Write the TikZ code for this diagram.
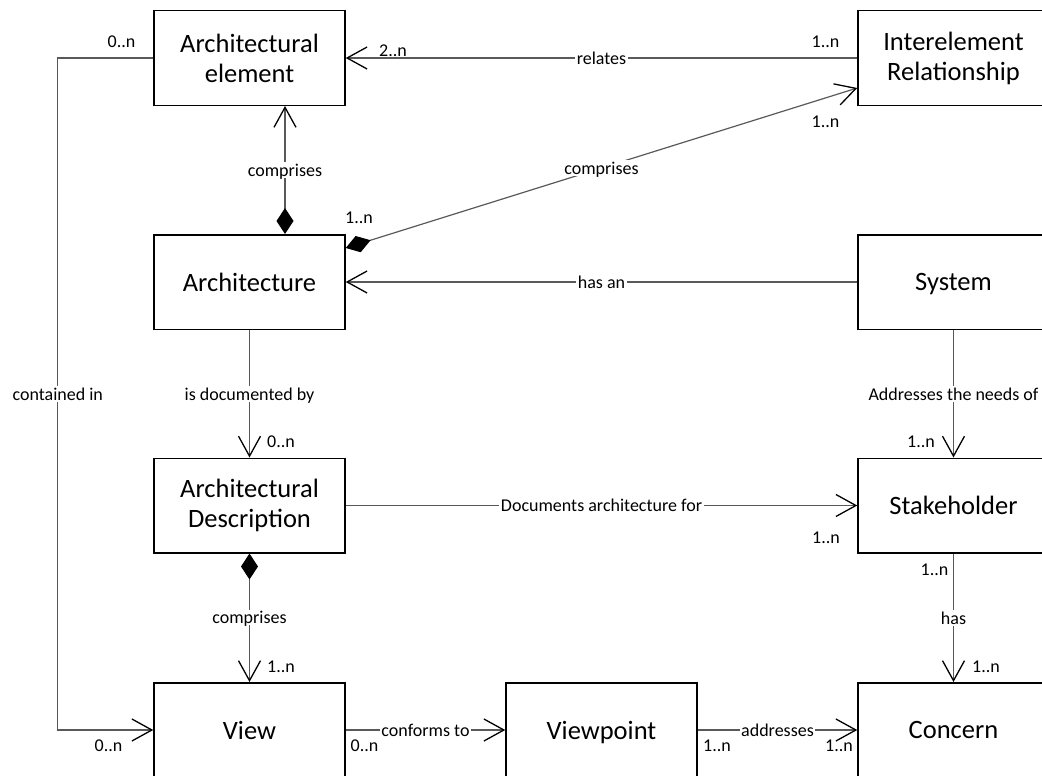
\documentclass[tikz,border=0pt]{standalone}
\usepackage{fontspec}
\setmainfont{Carlito}
\usetikzlibrary{%
  arrows.meta%
}
\tikzset{
  entity/.style={draw,line width=1.5pt,minimum width=191pt,minimum height=94.5pt,
    align=center,inner sep=2pt,font=\fontsize{26.5}{30}\selectfont},
  entity1/.style={entity,text depth=0pt},
  conn/.style={draw=black!65,line width=1.2pt},
  lbl/.style={fill=white,inner sep=1.5pt,text depth=0pt,font=\fontsize{18}{20}\selectfont},
  mult/.style={inner sep=0pt,font=\fontsize{18}{20}\selectfont},
  >={Straight Barb[length=20pt,width=22pt,line width=1.3pt,color=black]},
  comp/.tip={Diamond[length=26pt,width=17pt,color=black]}
}

\begin{document}
\begin{tikzpicture}[x=1pt,y=-1pt]
  \useasboundingbox (0,0) rectangle (1042,776);
  % classes
  \node[entity]  (archel)   at (249.5,58)    {Architectural\\element};
  \node[entity]  (interel)  at (953.5,58)    {Interelement\\Relationship};
  \node[entity1] (arch)     at (249.5,282)   {Architecture};
  \node[entity1] (sys)      at (953.5,282)   {System};
  \node[entity]  (archdesc) at (249.5,505.5) {Architectural\\Description};
  \node[entity1] (stake)    at (953.5,505.5) {Stakeholder};
  \node[entity1] (view)     at (249.5,730)   {View};
  \node[entity1] (vpoint)   at (601.5,730)   {Viewpoint};
  \node[entity1] (concern)  at (953.5,730)   {Concern};
  % relations
  \draw[conn,->] (interel.west) -- node[lbl] {relates} (archel.east)
    node[mult] at (393,51) {2..n} node[mult] at (825.5,42) {1..n};
  \draw[conn,comp->] ([xshift=35.5pt]arch.north) -- node[lbl] {comprises} ([xshift=35.5pt]archel.south);
  \draw[conn,comp->] ([yshift=-14pt]arch.north east) -- node[lbl] {comprises} ([yshift=-30pt]interel.west)
    node[mult] at (359,218) {1..n} node[mult] at (825.5,122) {1..n};
  \draw[conn,->] (sys.west) -- node[lbl] {has an} (arch.east);
  \draw[conn,->] (arch.south) -- node[lbl] {is documented by} (archdesc.north)
    node[mult] at (281,442) {0..n};
  \draw[conn,->] (sys.south) -- node[lbl] {Addresses the needs of} (stake.north)
    node[mult] at (921,442) {1..n};
  \draw[conn,->] (archdesc.east) -- node[lbl] {Documents architecture for} (stake.west)
    node[mult] at (826,538) {1..n};
  \draw[conn,comp->] (archdesc.south) -- node[lbl] {comprises} (view.north)
    node[mult] at (281,667) {1..n};
  \draw[conn,->] (stake.south) -- node[lbl] {has} (concern.north)
    node[mult] at (934.5,570) {1..n} node[mult] at (986,667) {1..n};
  \draw[conn,->] (view.east) -- node[lbl] {conforms to} (vpoint.west)
    node[mult] at (364.5,746) {0..n};
  \draw[conn,->] (vpoint.east) -- node[lbl] {addresses} (concern.west)
    node[mult] at (717,746) {1..n} node[mult] at (839,746) {1..n};
  \draw[conn,->] (archel.west) -- ++(-95.5,0) -- node[lbl] {contained in} ++(0,672) -- (view.west)
    node[mult] at (121.5,41.5) {0..n} node[mult] at (108.5,746) {0..n};
\end{tikzpicture}
\end{document}
